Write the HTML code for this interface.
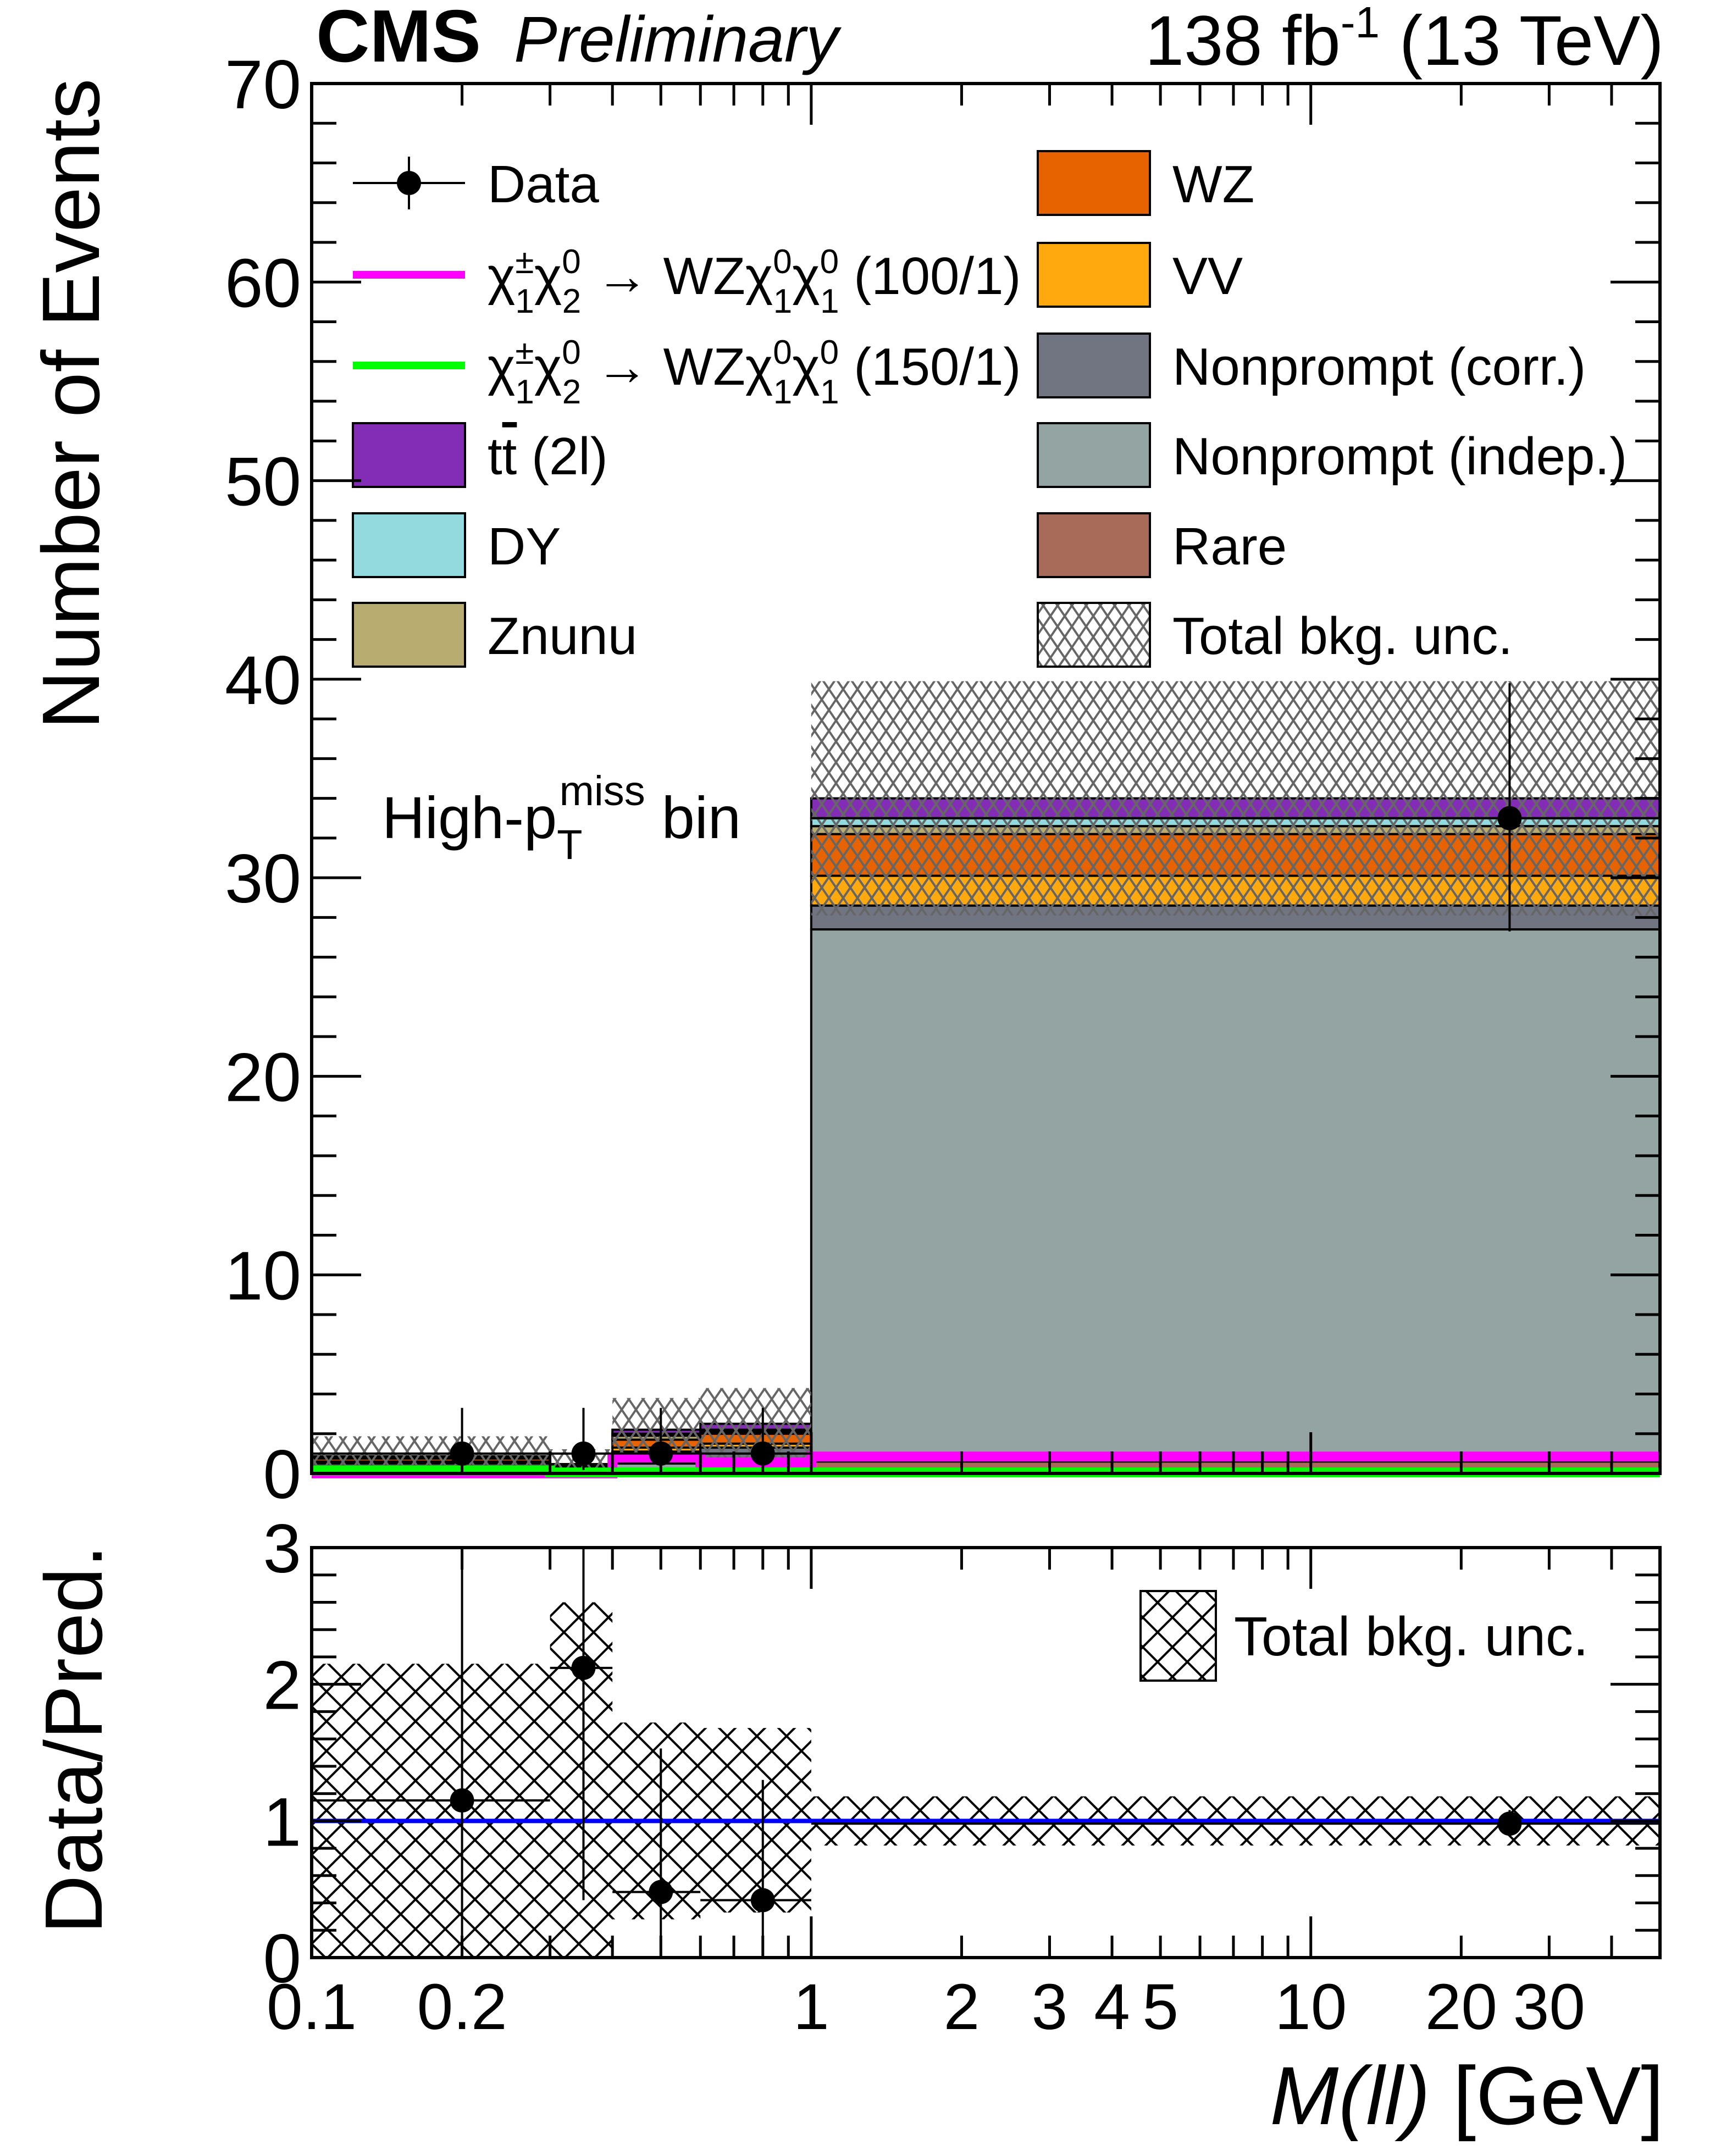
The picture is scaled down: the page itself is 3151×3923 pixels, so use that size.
<!DOCTYPE html>
<html><head><meta charset="utf-8">
<style>
html,body{margin:0;padding:0;background:#fff;}
svg{display:block;}
text{font-family:"Liberation Sans",sans-serif;fill:#000;}
</style></head>
<body>
<svg id="chart" width="3151" height="3923" viewBox="0 0 3151 3923" xmlns="http://www.w3.org/2000/svg">
<defs>
<pattern id="hatchGray" patternUnits="userSpaceOnUse" width="26" height="38">
<path d="M-13,-19 L39,57 M-13,19 L13,57 M13,-19 L39,19 M39,-19 L-13,57 M13,-19 L-13,19 M39,19 L13,57" stroke="#666" stroke-width="4" fill="none"/>
</pattern>
<pattern id="hatchBlack" patternUnits="userSpaceOnUse" width="54" height="54">
<path d="M0,0 L54,54 M54,0 L0,54 M-27,27 L27,81 M27,-27 L81,27 M-27,27 L27,-27 M27,81 L81,27" stroke="#000" stroke-width="4" fill="none"/>
</pattern>
</defs>
<g id="main"></g>
<g id="ratio"></g>
<g id="labels">
<text x="575" y="112" font-size="135" font-weight="bold">CMS</text>
<text x="935" y="112" font-size="118" font-style="italic">Preliminary</text>
<text x="3027" y="118" font-size="128" text-anchor="end">138 fb<tspan dy="-50" font-size="80">-1</tspan><tspan dy="50"> (13 TeV)</tspan></text>
<text transform="translate(180,735) rotate(-90)" font-size="148" text-anchor="middle">Number of Events</text>
<text transform="translate(185,3165) rotate(-90)" font-size="148" text-anchor="middle">Data/Pred.</text>
<text x="3027" y="3865" font-size="150" text-anchor="end"><tspan font-style="italic">M(ll)</tspan> [GeV]</text>
<text x="695" y="1525" font-size="108">High-p<tspan dy="38" font-size="76">T</tspan><tspan dx="-42" dy="-98" font-size="76">miss</tspan><tspan dy="60"> bin</tspan></text>
</g>
<g id="legend"></g>
</svg>
<script>
// ---- data ----
const binEdges = [0.1, 0.3, 0.4, 0.6, 1, 50];
const dataX = [0.2, 0.35, 0.5, 0.8, 25];
const dataY = [1, 1, 1, 1, 33];
const dataErrLo = [0.83, 0.83, 0.83, 0.83, 5.7];
const dataErrHi = [2.3, 2.3, 2.3, 2.3, 6.8];
const rare = [0.05, 0.02, 0.1, 0.1, 0.6];
const npIndep = [0.3, 0.1, 0.4, 0.3, 26.8];
const npCorr = [0.15, 0.1, 0.6, 0.9, 1.2];
const vv = [0.1, 0.05, 0.2, 0.2, 1.5];
const wz = [0.15, 0.1, 0.4, 0.5, 2.1];
const znunu = [0.05, 0.05, 0.2, 0.1, 0.4];
const dy = [0.02, 0.02, 0.1, 0.1, 0.4];
const ttbar = [0.05, 0.03, 0.2, 0.3, 1.0];
const bkgUnc = [1.0, 0.75, 1.6, 1.8, 5.9];
const sig100 = [0.0, 0.0, 0.8, 0.55, 0.85];
const sig150 = [0.15, 0.05, 0.05, 0.05, 0.05];
const ratioY = [1.15, 2.12, 0.48, 0.42, 0.98];
const ratioErrLo = [1.15, 1.7, 0.48, 0.42, 0.07];
const ratioErrHi = [2.5, 2.2, 1.05, 0.88, 0.1];
const ratioUncLo = [0, 0, 0.28, 0.33, 0.82];
const ratioUncHi = [2.15, 2.6, 1.72, 1.68, 1.18];
const yTicksMain = [0, 10, 20, 30, 40, 50, 60, 70];
const yTicksRatio = [0, 1, 2, 3];
const xTickLabels = [0.1, 0.2, 1, 2, 3, 4, 5, 10, 20, 30];

const NS = "http://www.w3.org/2000/svg";
const X0 = 567, X1 = 3020;
const MT = 152, MB = 2681, RT = 2816, RB = 3562;
const xmin = 0.1, xmax = 50;
function xs(v){ return X0 + (Math.log10(v) - Math.log10(xmin)) / (Math.log10(xmax) - Math.log10(xmin)) * (X1 - X0); }
function ym(v){ return MB - v / 70 * (MB - MT); }
function yr(v){ return RB - v / 3 * (RB - RT); }
function mk(tag, attrs, parent){ const e = document.createElementNS(NS, tag); for (const k in attrs) e.setAttribute(k, attrs[k]); parent.appendChild(e); return e; }

const main = document.getElementById('main');
const ratio = document.getElementById('ratio');
const comps = [
 {arr: rare, c: '#a96b59', n: 'rare'},
 {arr: npIndep, c: '#94a4a2', n: 'nonprompt-indep'},
 {arr: npCorr, c: '#717581', n: 'nonprompt-corr'},
 {arr: vv, c: '#ffa90e', n: 'vv'},
 {arr: wz, c: '#e76300', n: 'wz'},
 {arr: znunu, c: '#b9ac70', n: 'znunu'},
 {arr: dy, c: '#92dadd', n: 'dy'},
 {arr: ttbar, c: '#832db6', n: 'ttbar'}
];
const totals = [];
for (let i = 0; i < binEdges.length - 1; i++) {
  const xa = xs(binEdges[i]), xb = xs(binEdges[i + 1]);
  let cum = 0;
  comps.forEach(cp => {
    const v = cp.arr[i];
    const r = mk('rect', {x: xa, y: ym(cum + v), width: xb - xa, height: ym(cum) - ym(cum + v), fill: cp.c, stroke: '#000', 'stroke-width': 4}, main);
    
    
    cum += v;
  });
  totals.push(cum);
}
// uncertainty bands main
for (let i = 0; i < totals.length; i++) {
  const xa = xs(binEdges[i]), xb = xs(binEdges[i + 1]);
  const lo = Math.max(0, totals[i] - bkgUnc[i]), hi = totals[i] + bkgUnc[i];
  const r = mk('rect', {x: xa, y: ym(hi), width: xb - xa, height: ym(lo) - ym(hi), fill: 'url(#hatchGray)'}, main);
  
  
}
// signals
function stepPath(vals, yfun){ let d = ''; for (let i = 0; i < vals.length; i++){ const xa = xs(binEdges[i]), xb = xs(binEdges[i+1]); d += (i ? 'L' : 'M') + xa + ',' + yfun(vals[i]) + 'L' + xb + ',' + yfun(vals[i]); } return d; }
const s1 = mk('path', {d: stepPath(sig100, ym), stroke: '#ff00ff', 'stroke-width': 18, fill: 'none'}, main);


const s2 = mk('path', {d: stepPath(sig150, ym), stroke: '#00ff00', 'stroke-width': 18, fill: 'none'}, main);


// data points main
for (let i = 0; i < dataX.length; i++) {
  const g = mk('g', {}, main);
  
  
  const cx = xs(dataX[i]), cy = ym(dataY[i]);
  mk('line', {x1: xs(binEdges[i]), x2: xs(binEdges[i+1]), y1: cy, y2: cy, stroke: '#000', 'stroke-width': 4}, g);
  mk('line', {x1: cx, x2: cx, y1: ym(dataY[i] + dataErrHi[i]), y2: ym(Math.max(0, dataY[i] - dataErrLo[i])), stroke: '#000', 'stroke-width': 4}, g);
  mk('circle', {cx: cx, cy: cy, r: 22, fill: '#000'}, g);
}
// ratio band
for (let i = 0; i < ratioUncLo.length; i++) {
  const xa = xs(binEdges[i]), xb = xs(binEdges[i + 1]);
  const r = mk('rect', {x: xa, y: yr(ratioUncHi[i]), width: xb - xa, height: yr(ratioUncLo[i]) - yr(ratioUncHi[i]), fill: 'url(#hatchBlack)'}, ratio);
  
  
}
const one = mk('line', {x1: X0, x2: X1, y1: yr(1), y2: yr(1), stroke: '#0000ff', 'stroke-width': 8}, ratio);


for (let i = 0; i < ratioY.length; i++) {
  const g = mk('g', {}, ratio);
  
  
  const cx = xs(dataX[i]), cy = yr(ratioY[i]);
  mk('line', {x1: xs(binEdges[i]), x2: xs(binEdges[i+1]), y1: cy, y2: cy, stroke: '#000', 'stroke-width': 4}, g);
  mk('line', {x1: cx, x2: cx, y1: Math.max(RT, yr(ratioY[i] + ratioErrHi[i])), y2: yr(Math.max(0, ratioY[i] - ratioErrLo[i])), stroke: '#000', 'stroke-width': 4}, g);
  mk('circle', {cx: cx, cy: cy, r: 22, fill: '#000'}, g);
}
// frames & ticks
function frame(parent, top, bot, name){
  const f = mk('rect', {x: X0, y: top, width: X1 - X0, height: bot - top, fill: 'none', stroke: '#000', 'stroke-width': 6}, parent);
  
  
}
frame(main, MT, MB, 'main-plot-frame');
frame(ratio, RT, RB, 'ratio-plot-frame');
const xt = document.createElementNS(NS, 'g'); document.getElementById('chart').appendChild(xt);


for (let dec = 0.1; dec < 100; dec *= 10) {
  for (let m = 1; m <= 9; m++) {
    const v = +(dec * m).toPrecision(3);
    if (v < xmin || v > xmax) continue;
    const L = (m === 1) ? 75 : 40; const x = xs(v);
    [[MB, -1], [MT, 1], [RB, -1], [RT, 1]].forEach(([y, s]) => mk('line', {x1: x, x2: x, y1: y, y2: y + s * L, stroke: '#000', 'stroke-width': 5}, xt));
  }
}
xTickLabels.forEach(v => {
  const t = mk('text', {x: xs(v), y: 3692, 'font-size': 118, 'text-anchor': 'middle'}, xt);
  t.textContent = String(v);
  
  
});
const yt = document.createElementNS(NS, 'g'); document.getElementById('chart').appendChild(yt);


for (let v = 0; v <= 70; v += 2) {
  const L = v % 10 === 0 ? 90 : 45; const y = ym(v);
  mk('line', {x1: X0, x2: X0 + L, y1: y, y2: y, stroke: '#000', 'stroke-width': 5}, yt);
  mk('line', {x1: X1, x2: X1 - L, y1: y, y2: y, stroke: '#000', 'stroke-width': 5}, yt);
}
yTicksMain.forEach(v => {
  const t = mk('text', {x: 548, y: ym(v) + 45, 'font-size': 125, 'text-anchor': 'end'}, yt);
  t.textContent = String(v);
  
  
});
for (let k = 0; k <= 15; k++) {
  const v = k * 0.2; const L = k % 5 === 0 ? 90 : 45; const y = yr(v);
  mk('line', {x1: X0, x2: X0 + L, y1: y, y2: y, stroke: '#000', 'stroke-width': 5}, yt);
  mk('line', {x1: X1, x2: X1 - L, y1: y, y2: y, stroke: '#000', 'stroke-width': 5}, yt);
}
yTicksRatio.forEach(v => {
  const t = mk('text', {x: 548, y: yr(v) + 45, 'font-size': 125, 'text-anchor': 'end'}, yt);
  t.textContent = String(v);
  
  
});
// legend
const lg = document.getElementById('legend');


function entry(x, y, kind, color, label, name){
  const g = mk('g', {}, lg);
  
  
  if (kind === 'box') mk('rect', {x: x, y: y - 58, width: 204, height: 116, fill: color, stroke: '#000', 'stroke-width': 4}, g);
  else if (kind === 'line') mk('line', {x1: x, x2: x + 204, y1: y, y2: y, stroke: color, 'stroke-width': 14}, g);
  else { mk('line', {x1: x, x2: x + 204, y1: y, y2: y, stroke: '#000', 'stroke-width': 4}, g); mk('line', {x1: x + 102, x2: x + 102, y1: y - 48, y2: y + 48, stroke: '#000', 'stroke-width': 4}, g); mk('circle', {cx: x + 102, cy: y, r: 22, fill: '#000'}, g); }
  const t = mk('text', {x: x + 245, y: y + 35, 'font-size': 96}, g);
  t.innerHTML = label;
}
const sig = (m) => 'χ<tspan dy="-38" font-size="62">±</tspan><tspan dx="-34" dy="72" font-size="62">1</tspan><tspan dy="-34">χ</tspan><tspan dy="-38" font-size="62">0</tspan><tspan dx="-34" dy="72" font-size="62">2</tspan><tspan dy="-34"> → WZχ</tspan><tspan dy="-38" font-size="62">0</tspan><tspan dx="-34" dy="72" font-size="62">1</tspan><tspan dy="-34">χ</tspan><tspan dy="-38" font-size="62">0</tspan><tspan dx="-34" dy="72" font-size="62">1</tspan><tspan dy="-34"> (' + m + '/1)</tspan>';
entry(642, 333, 'data', '#000', 'Data', 'legend-data');
entry(642, 500, 'line', '#ff00ff', sig(100), 'legend-signal-100');
entry(642, 665, 'line', '#00ff00', sig(150), 'legend-signal-150');
entry(642, 828, 'box', '#832db6', 't<tspan text-decoration="overline">t</tspan> (2l)', 'legend-ttbar');
entry(642, 992, 'box', '#92dadd', 'DY', 'legend-dy');
entry(642, 1155, 'box', '#b9ac70', 'Znunu', 'legend-znunu');
entry(1888, 333, 'box', '#e76300', 'WZ', 'legend-wz');
entry(1888, 500, 'box', '#ffa90e', 'VV', 'legend-vv');
entry(1888, 665, 'box', '#717581', 'Nonprompt (corr.)', 'legend-nonprompt-corr');
entry(1888, 828, 'box', '#94a4a2', 'Nonprompt (indep.)', 'legend-nonprompt-indep');
entry(1888, 992, 'box', '#a96b59', 'Rare', 'legend-rare');
entry(1888, 1155, 'box', 'url(#hatchGray)', 'Total bkg. unc.', 'legend-total-unc');
const rl = mk('g', {}, lg);


mk('rect', {x: 2075, y: 2895, width: 137, height: 163, fill: 'url(#hatchBlack)', stroke: '#000', 'stroke-width': 4}, rl);
const rt = mk('text', {x: 2245, y: 3012, 'font-size': 100}, rl);
rt.textContent = 'Total bkg. unc.';
</script>
</body></html>
